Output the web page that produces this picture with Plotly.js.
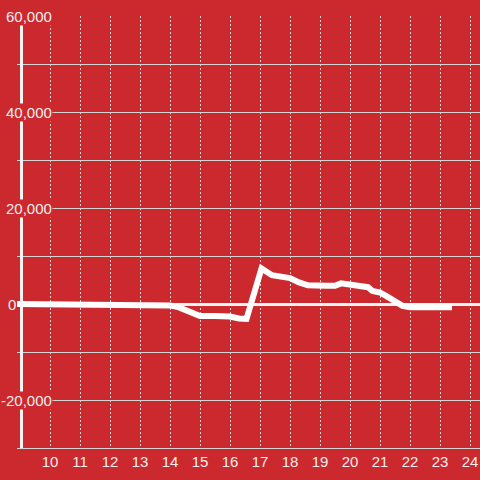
<!DOCTYPE html>
<html>
<head>
<meta charset="utf-8">
<script src="https://cdn.plot.ly/plotly-3.0.1.min.js"></script>
<style>html,body{margin:0;padding:0;background:#cc292e;}#chart{width:480px;height:480px;}</style>
</head>
<body>
<div id="chart"></div>
<script>
// Data
var hours = [8.9, 13.4, 13.6, 14.0, 14.3, 14.6, 15.0, 15.5, 16.0, 16.3, 16.55, 17.05, 17.4, 17.8, 18.0, 18.3, 18.6, 19.2, 19.5, 19.7, 20.0, 20.4, 20.6, 20.75, 21.0, 21.2, 21.5, 21.75, 22.0, 23.4];
var values = [0, 0, -200, -300, -700, -1400, -2500, -2500, -2600, -3000, -3100, 7400, 6000, 5600, 5400, 4500, 3900, 3800, 3800, 4300, 4100, 3800, 3500, 2700, 2400, 1700, 600, -400, -700, -700];
var xTickVals = [10, 11, 12, 13, 14, 15, 16, 17, 18, 19, 20, 21, 22, 23, 24];
var xTickText = ["10", "11", "12", "13", "14", "15", "16", "17", "18", "19", "20", "21", "22", "23", "24"];
var yTickVals = [-20000, 0, 20000, 40000, 60000];
var yTickText = ["-20,000", "0", "20,000", "40,000", "60,000"];

var RED = '#cc292e';
var TEXT = '#f3eded';
var GRID = '#d4d4d4';

var W = 480, ML = 17;
var plotW = W - ML;

var annotations = yTickVals.map(function (v, i) {
  var isZero = v === 0;
  return {
    x: isZero ? 16.5 : 52.5, xref: 'paper', y: v, yref: 'y',
    xanchor: 'right', yanchor: 'middle',
    text: yTickText[i], showarrow: false,
    font: {family: 'Liberation Sans, Arial, sans-serif', size: 15, color: TEXT},
    bgcolor: RED, borderpad: 0
  };
});
// convert pixel x to paper fraction
annotations.forEach(function (a) { a.x = (a.x - ML) / plotW; });

var trace = {
  x: hours, y: values, type: 'scatter', mode: 'lines',
  line: {color: '#ffffff', width: 6},
  hoverinfo: 'skip'
};

var layout = {
  width: 480, height: 480,
  paper_bgcolor: RED, plot_bgcolor: RED,
  margin: {l: ML, r: 0, t: 16, b: 32, pad: 0},
  showlegend: false,
  xaxis: {
    range: [8.9, 8.9 + plotW / 30],
    tickmode: 'array', tickvals: xTickVals, ticktext: xTickText,
    showgrid: true, gridcolor: GRID, gridwidth: 1, griddash: '2px,2px',
    zeroline: false, showline: true, linecolor: GRID, linewidth: 1,
    ticks: '', tickfont: {family: 'Liberation Sans, Arial, sans-serif', size: 15, color: TEXT},
    fixedrange: true
  },
  yaxis: {
    range: [-30000, 60000],
    anchor: 'free', position: 3.5 / plotW,
    tick0: 0, dtick: 10000,
    showgrid: true, gridcolor: GRID, gridwidth: 1,
    zeroline: true, zerolinecolor: '#f4f4f4', zerolinewidth: 3,
    showline: true, linecolor: '#f4f4f4', linewidth: 3,
    showticklabels: false, ticks: '',
    fixedrange: true
  },
  annotations: annotations
};

Plotly.newPlot('chart', [trace], layout, {displayModeBar: false, staticPlot: true});
</script>
</body>
</html>
